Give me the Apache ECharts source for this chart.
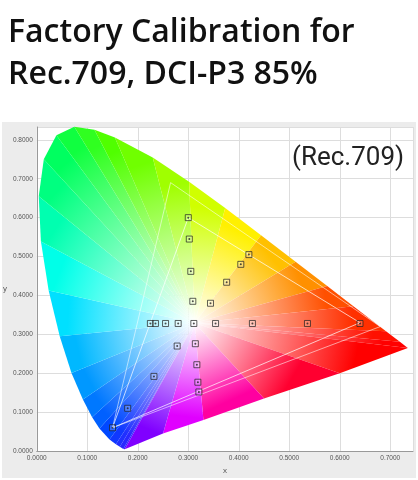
<!DOCTYPE html>
<html><head><meta charset="utf-8">
<script src="https://cdn.jsdelivr.net/npm/echarts@6/dist/echarts.min.js"></script>
<style>html,body{margin:0;padding:0;background:#fff}#c{width:418px;height:480px}</style>
</head><body><div id="c"></div>
<script>
// CIE 1931 spectral locus (x, y), closed by the purple line, and the hue shown along it
const locus = [
  [0.1741,0.0050],[0.1714,0.0051],[0.1644,0.0109],[0.1566,0.0177],[0.1440,0.0297],
  [0.1241,0.0578],[0.1096,0.0868],[0.0913,0.1327],[0.0687,0.2007],[0.0454,0.2950],
  [0.0235,0.4127],[0.0082,0.5384],[0.0039,0.6548],[0.0139,0.7502],[0.0389,0.8120],
  [0.0743,0.8338],[0.1142,0.8262],[0.1547,0.8059],[0.2296,0.7543],[0.3016,0.6923],
  [0.3731,0.6245],[0.4441,0.5547],[0.5125,0.4866],[0.5752,0.4242],[0.6270,0.3725],
  [0.6915,0.3083],[0.7190,0.2809],[0.7347,0.2653],
  [0.60,0.20],[0.45,0.135],[0.33,0.08],[0.25,0.045]
]
const hues = [
  '#3020ff','#2828ff','#2030ff','#1038ff','#0048ff',
  '#0060ff','#0078ff','#0098ff','#00b8ff','#00e0ff',
  '#00ffe8','#00ffb0','#00ff80','#00ff60','#10ff40',
  '#30ff20','#50ff00','#70ff00','#a0ff00','#d0ff00',
  '#fff000','#ffc000','#ff9000','#ff5000','#ff3000',
  '#ff1000','#ff0000','#ff0000',
  '#ff0030','#ff00a0','#e000ff','#8000ff'
]
const whitePoint = [0.3127, 0.3290]
const rec709 = [[0.64,0.33],[0.30,0.60],[0.15,0.06],[0.64,0.33]]
const dciP3 = [[0.68,0.32],[0.265,0.69],[0.15,0.06],[0.68,0.32]]
const measured = [
  [0.300,0.600],[0.302,0.545],[0.305,0.462],[0.309,0.385],[0.344,0.380],[0.376,0.434],
  [0.404,0.480],[0.420,0.505],[0.225,0.328],[0.235,0.328],[0.255,0.328],[0.280,0.328],
  [0.311,0.328],[0.354,0.328],[0.427,0.328],[0.536,0.328],[0.640,0.328],[0.278,0.270],
  [0.314,0.276],[0.317,0.222],[0.319,0.177],[0.321,0.152],[0.232,0.192],[0.180,0.110],
  [0.150,0.060]
]
const ticksFmt = v => v.toFixed(4)

const chart = echarts.init(document.getElementById('c'))
const segs = locus.map((p, i) => [i])

chart.setOption({
  animation: false,
  title: {
    text: 'Factory Calibration for\nRec.709, DCI-P3 85%',
    left: 3, top: 7,
    textStyle: { fontFamily: 'Open Sans', fontSize: 32, fontWeight: 600, color: '#111', lineHeight: 42 }
  },
  graphic: [
    { type: 'rect', shape: { x: 2, y: 122, width: 414, height: 356 }, style: { fill: '#ececec' }, z: -10 },
    { type: 'text', left: 292, top: 145, style: { text: '(Rec.709)', font: '26px Roboto', fill: '#222' }, z: 100 }
  ],
  grid: { left: 29, right: 5, top: 127, bottom: 21, backgroundColor: '#fff', show: true, borderWidth: 0 },
  xAxis: {
    type: 'value', min: 0, max: 0.745, interval: 0.1, name: 'x', nameLocation: 'middle', nameGap: 11,
    nameTextStyle: { fontSize: 8, color: '#555' },
    axisLabel: { formatter: ticksFmt, fontSize: 6.5, color: '#555', margin: 4, showMaxLabel: false },
    axisLine: { lineStyle: { color: '#999' } }, axisTick: { show: false },
    splitLine: { lineStyle: { color: '#ddd' } }
  },
  yAxis: {
    type: 'value', min: 0, max: 0.833, interval: 0.1, name: 'y', nameLocation: 'middle', nameGap: 24, nameRotate: 0,
    nameTextStyle: { fontSize: 8, color: '#555' },
    axisLabel: { formatter: ticksFmt, fontSize: 6.5, color: '#555', margin: 4, showMaxLabel: false },
    axisLine: { show: true, lineStyle: { color: '#999' } }, axisTick: { show: false },
    splitLine: { lineStyle: { color: '#ddd' } }
  },
  series: [
    {
      type: 'custom', data: segs, z: 1, silent: true,
      renderItem: function (params, api) {
        const i = api.value(0)
        const j = (i + 1) % locus.length
        const w = api.coord(whitePoint)
        const a = api.coord(locus[i])
        const b = api.coord(locus[j])
        const m = [(a[0] + b[0]) / 2, (a[1] + b[1]) / 2]
        return {
          type: 'polygon',
          shape: { points: [w, a, b] },
          style: {
            fill: new echarts.graphic.LinearGradient(w[0], w[1], m[0], m[1], [
              { offset: 0, color: '#ffffff' },
              { offset: 0.9, color: hues[i] }
            ], true),
            stroke: null
          }
        }
      }
    },
    { type: 'line', data: rec709, symbol: 'none', z: 3, lineStyle: { color: 'rgba(255,255,255,0.7)', width: 1 } },
    { type: 'line', data: dciP3, symbol: 'none', z: 3, lineStyle: { color: 'rgba(255,255,255,0.55)', width: 1 } },
    {
      type: 'scatter', data: measured, symbol: 'rect', symbolSize: 6, z: 5,
      itemStyle: { color: 'rgba(255,255,255,0.25)', borderColor: '#222', borderWidth: 0.9 }
    },
    { type: 'scatter', data: measured, symbolSize: 2, z: 6, itemStyle: { color: '#222' } }
  ]
})
</script></body></html>
